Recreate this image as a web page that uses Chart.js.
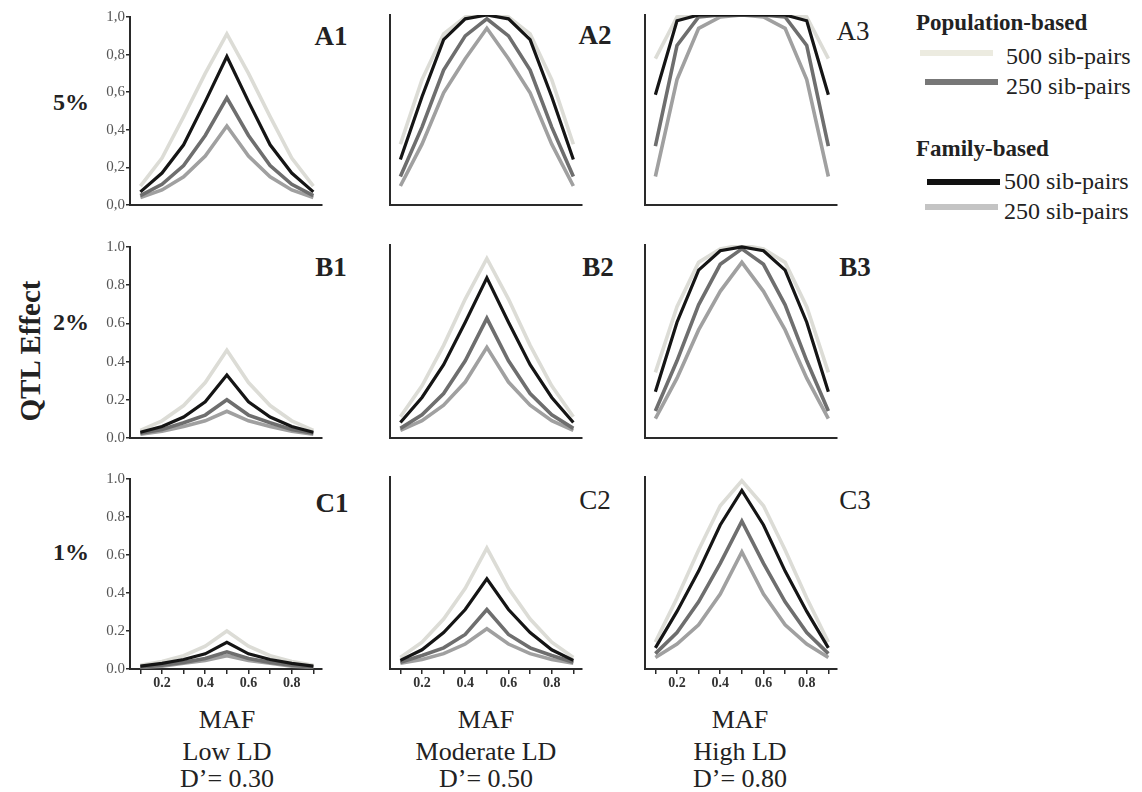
<!DOCTYPE html>
<html>
<head>
<meta charset="utf-8">
<script src="https://cdn.jsdelivr.net/npm/chart.js@4.4.0/dist/chart.umd.min.js"></script>
<style>
    body { margin: 0; background: #fff; width: 1142px; height: 792px; position: relative; overflow: hidden; font-family: "Liberation Serif", "Times New Roman", "DejaVu Serif", serif; color: #222; }
    canvas { position: absolute; }
    .t { position: absolute; white-space: nowrap; transform: translate(-50%, -50%); line-height: 1; }
    .panel { font-size: 27px; font-weight: bold; }
    .panel.reg { font-weight: normal; }
    .row { font-size: 24px; font-weight: bold; }
    .bottom { font-size: 26px; text-align: center; }
    .legend-title { position: absolute; font-size: 23px; font-weight: bold; line-height: 1; }
    .legend-item { position: absolute; font-size: 24px; line-height: 1; }
    .swatch { position: absolute; height: 6px; }
</style>
</head>
<body>

<div class="t" style="left:30px; top:351px; transform:translate(-50%,-50%) rotate(-90deg); font-size:29px; font-weight:bold;">QTL Effect</div>
<div class="t row" style="left:71px; top:102px;">5%</div>
<div class="t row" style="left:71px; top:322px;">2%</div>
<div class="t row" style="left:71px; top:552px;">1%</div>

<div class="t panel" style="left:331px; top:36px;">A1</div>
<div class="t panel" style="left:595px; top:35px;">A2</div>
<div class="t panel reg" style="left:853px; top:31px;">A3</div>
<div class="t panel" style="left:331px; top:267px;">B1</div>
<div class="t panel" style="left:598px; top:267px;">B2</div>
<div class="t panel" style="left:855px; top:267px;">B3</div>
<div class="t panel" style="left:332px; top:503px;">C1</div>
<div class="t panel reg" style="left:595px; top:500px;">C2</div>
<div class="t panel reg" style="left:855px; top:500px;">C3</div>

<div class="t bottom" style="left:227px; top:720px;">MAF</div>
<div class="t bottom" style="left:227px; top:752px;">Low LD</div>
<div class="t bottom" style="left:227px; top:779px;">D’= 0.30</div>
<div class="t bottom" style="left:486px; top:720px;">MAF</div>
<div class="t bottom" style="left:486px; top:752px;">Moderate LD</div>
<div class="t bottom" style="left:486px; top:779px;">D’= 0.50</div>
<div class="t bottom" style="left:740px; top:720px;">MAF</div>
<div class="t bottom" style="left:740px; top:752px;">High LD</div>
<div class="t bottom" style="left:740px; top:779px;">D’= 0.80</div>

<div class="legend-title" style="left:916px; top:11px;">Population-based</div>
<div class="swatch" style="left:920px; top:50px; width:73px; background:#ecebe0;"></div>
<div class="legend-item" style="left:1006px; top:44px;">500 sib-pairs</div>
<div class="swatch" style="left:925px; top:79px; width:73px; background:#777;"></div>
<div class="legend-item" style="left:1006px; top:74px;">250 sib-pairs</div>
<div class="legend-title" style="left:916px; top:137px;">Family-based</div>
<div class="swatch" style="left:927px; top:179px; width:73px; background:#111;"></div>
<div class="legend-item" style="left:1004px; top:169px;">500 sib-pairs</div>
<div class="swatch" style="left:925px; top:204px; width:73px; background:#c4c4c4;"></div>
<div class="legend-item" style="left:1004px; top:199px;">250 sib-pairs</div>

<canvas id="A1"></canvas>
<canvas id="A2"></canvas>
<canvas id="A3"></canvas>
<canvas id="B1"></canvas>
<canvas id="B2"></canvas>
<canvas id="B3"></canvas>
<canvas id="C1"></canvas>
<canvas id="C2"></canvas>
<canvas id="C3"></canvas>

<script>
    const maf = [0.1, 0.2, 0.3, 0.4, 0.5, 0.6, 0.7, 0.8, 0.9];
    const yLabelsA = ["0,0", "0,2", "0,4", "0,6", "0,8", "1,0"];
    const yLabelsBC = ["0.0", "0.2", "0.4", "0.6", "0.8", "1.0"];
    const xLabels = ["0.2", "0.4", "0.6", "0.8"];

    // 5% QTL effect
    const a1Pop500 = [0.10, 0.25, 0.47, 0.70, 0.91, 0.70, 0.47, 0.25, 0.10];
    const a1Fam500 = [0.07, 0.17, 0.32, 0.55, 0.79, 0.55, 0.32, 0.17, 0.07];
    const a1Pop250 = [0.05, 0.11, 0.21, 0.37, 0.57, 0.37, 0.21, 0.11, 0.05];
    const a1Fam250 = [0.04, 0.08, 0.15, 0.26, 0.42, 0.26, 0.15, 0.08, 0.04];

    const a2Pop500 = [0.32, 0.66, 0.90, 0.99, 1.00, 0.99, 0.90, 0.66, 0.32];
    const a2Fam500 = [0.24, 0.57, 0.87, 0.98, 1.00, 0.98, 0.87, 0.57, 0.24];
    const a2Pop250 = [0.15, 0.41, 0.71, 0.89, 0.98, 0.89, 0.71, 0.41, 0.15];
    const a2Fam250 = [0.10, 0.32, 0.59, 0.77, 0.93, 0.77, 0.59, 0.32, 0.10];

    const a3Pop500 = [0.77, 0.99, 1.00, 1.00, 1.00, 1.00, 1.00, 0.99, 0.77];
    const a3Fam500 = [0.58, 0.97, 1.00, 1.00, 1.00, 1.00, 1.00, 0.97, 0.58];
    const a3Pop250 = [0.31, 0.84, 0.99, 1.00, 1.00, 1.00, 0.99, 0.84, 0.31];
    const a3Fam250 = [0.15, 0.66, 0.93, 0.99, 1.00, 0.99, 0.93, 0.66, 0.15];

    // 2% QTL effect
    const b1Pop500 = [0.04, 0.09, 0.17, 0.29, 0.46, 0.29, 0.17, 0.09, 0.04];
    const b1Fam500 = [0.03, 0.06, 0.11, 0.19, 0.33, 0.19, 0.11, 0.06, 0.03];
    const b1Pop250 = [0.025, 0.045, 0.08, 0.12, 0.20, 0.12, 0.08, 0.045, 0.025];
    const b1Fam250 = [0.02, 0.035, 0.06, 0.09, 0.14, 0.09, 0.06, 0.035, 0.02];

    const b2Pop500 = [0.11, 0.27, 0.48, 0.72, 0.93, 0.72, 0.48, 0.27, 0.11];
    const b2Fam500 = [0.08, 0.21, 0.38, 0.60, 0.83, 0.60, 0.38, 0.21, 0.08];
    const b2Pop250 = [0.05, 0.12, 0.23, 0.40, 0.62, 0.40, 0.23, 0.12, 0.05];
    const b2Fam250 = [0.04, 0.09, 0.17, 0.29, 0.47, 0.29, 0.17, 0.09, 0.04];

    const b3Pop500 = [0.34, 0.68, 0.91, 0.98, 1.00, 0.98, 0.91, 0.68, 0.34];
    const b3Fam500 = [0.24, 0.60, 0.87, 0.97, 0.99, 0.97, 0.87, 0.60, 0.24];
    const b3Pop250 = [0.14, 0.40, 0.69, 0.90, 0.98, 0.90, 0.69, 0.40, 0.14];
    const b3Fam250 = [0.10, 0.31, 0.56, 0.76, 0.91, 0.76, 0.56, 0.31, 0.10];

    // 1% QTL effect
    const c1Pop500 = [0.02, 0.04, 0.07, 0.12, 0.20, 0.12, 0.07, 0.04, 0.02];
    const c1Fam500 = [0.015, 0.03, 0.05, 0.08, 0.14, 0.08, 0.05, 0.03, 0.015];
    const c1Pop250 = [0.01, 0.02, 0.035, 0.055, 0.09, 0.055, 0.035, 0.02, 0.01];
    const c1Fam250 = [0.01, 0.015, 0.03, 0.045, 0.07, 0.045, 0.03, 0.015, 0.01];

    const c2Pop500 = [0.06, 0.14, 0.26, 0.42, 0.63, 0.42, 0.26, 0.14, 0.06];
    const c2Fam500 = [0.045, 0.10, 0.19, 0.31, 0.47, 0.31, 0.19, 0.10, 0.045];
    const c2Pop250 = [0.035, 0.07, 0.11, 0.18, 0.31, 0.18, 0.11, 0.07, 0.035];
    const c2Fam250 = [0.03, 0.05, 0.08, 0.13, 0.21, 0.13, 0.08, 0.05, 0.03];

    const c3Pop500 = [0.14, 0.37, 0.62, 0.85, 0.98, 0.85, 0.62, 0.37, 0.14];
    const c3Fam500 = [0.11, 0.30, 0.51, 0.75, 0.93, 0.75, 0.51, 0.30, 0.11];
    const c3Pop250 = [0.08, 0.19, 0.35, 0.55, 0.77, 0.55, 0.35, 0.19, 0.08];
    const c3Fam250 = [0.06, 0.13, 0.23, 0.39, 0.61, 0.39, 0.23, 0.13, 0.06];

    // drawn top-first: family 500 on top, population 500 underneath
    const lineColors = ["#151515", "#6e6e6e", "#a0a0a0", "#dcdcd6"];

    const colLeft = [130, 390, 645];
    const plotW = 192;
    const rowTop = [15, 245, 477];
    const plotH = [190, 193, 192];
    const yW = 40, padT = 8, padR = 12, xH = 26;
    const serif = "'Liberation Serif', 'Times New Roman', serif";

    const panels = [
        { id: "A1", row: 0, col: 0, series: [a1Fam500, a1Pop250, a1Fam250, a1Pop500] },
        { id: "A2", row: 0, col: 1, series: [a2Fam500, a2Pop250, a2Fam250, a2Pop500] },
        { id: "A3", row: 0, col: 2, series: [a3Fam500, a3Pop250, a3Fam250, a3Pop500] },
        { id: "B1", row: 1, col: 0, series: [b1Fam500, b1Pop250, b1Fam250, b1Pop500] },
        { id: "B2", row: 1, col: 1, series: [b2Fam500, b2Pop250, b2Fam250, b2Pop500] },
        { id: "B3", row: 1, col: 2, series: [b3Fam500, b3Pop250, b3Fam250, b3Pop500] },
        { id: "C1", row: 2, col: 0, series: [c1Fam500, c1Pop250, c1Fam250, c1Pop500] },
        { id: "C2", row: 2, col: 1, series: [c2Fam500, c2Pop250, c2Fam250, c2Pop500] },
        { id: "C3", row: 2, col: 2, series: [c3Fam500, c3Pop250, c3Fam250, c3Pop500] },
    ];

    panels.forEach(p => {
        const canvas = document.getElementById(p.id);
        const w = plotW + yW + padR;
        const h = plotH[p.row] + padT + xH;
        canvas.width = w;
        canvas.height = h;
        canvas.style.width = w + "px";
        canvas.style.height = h + "px";
        canvas.style.left = (colLeft[p.col] - yW) + "px";
        canvas.style.top = (rowTop[p.row] - padT) + "px";

        const showY = p.col === 0;
        const showX = p.row === 2;
        const yLabels = p.row === 0 ? yLabelsA : yLabelsBC;

        new Chart(canvas, {
            type: "line",
            data: {
                datasets: p.series.map((values, i) => ({
                    data: values.map((v, j) => ({ x: maf[j], y: v })),
                    borderColor: lineColors[i],
                    borderWidth: i === 0 ? 3.2 : 3.6,
                    pointRadius: 0,
                    tension: 0,
                    fill: false
                }))
            },
            options: {
                responsive: false,
                animation: false,
                events: [],
                layout: { padding: { top: padT, right: padR, left: 0, bottom: 0 } },
                plugins: { legend: { display: false }, tooltip: { enabled: false } },
                scales: {
                    x: {
                        type: "linear",
                        min: 0.052,
                        max: 0.94,
                        afterFit: s => { s.height = xH; },
                        afterBuildTicks: s => { s.ticks = maf.map(v => ({ value: v })); },
                        border: { display: true, color: "#2a2a2a", width: 2 },
                        grid: { display: showX, drawOnChartArea: false, drawTicks: true, tickLength: 5, color: "#2a2a2a", lineWidth: 1.5 },
                        ticks: {
                            display: showX,
                            autoSkip: false,
                            maxRotation: 0,
                            padding: 1,
                            color: "#333",
                            font: { family: serif, size: 14, weight: "bold" },
                            callback: v => xLabels.includes(v.toFixed(1)) ? v.toFixed(1) : ""
                        }
                    },
                    y: {
                        min: 0,
                        max: 1,
                        afterFit: s => { s.width = yW; },
                        border: { display: true, color: "#2a2a2a", width: 2 },
                        grid: { display: showY, drawOnChartArea: false, drawTicks: true, tickLength: 4, color: "#2a2a2a", lineWidth: 1.5 },
                        ticks: {
                            display: showY,
                            stepSize: 0.2,
                            padding: 1,
                            color: "#555",
                            font: { family: serif, size: 15 },
                            callback: (v, i) => yLabels[i]
                        }
                    }
                }
            }
        });
    });
</script>
</body>
</html>
